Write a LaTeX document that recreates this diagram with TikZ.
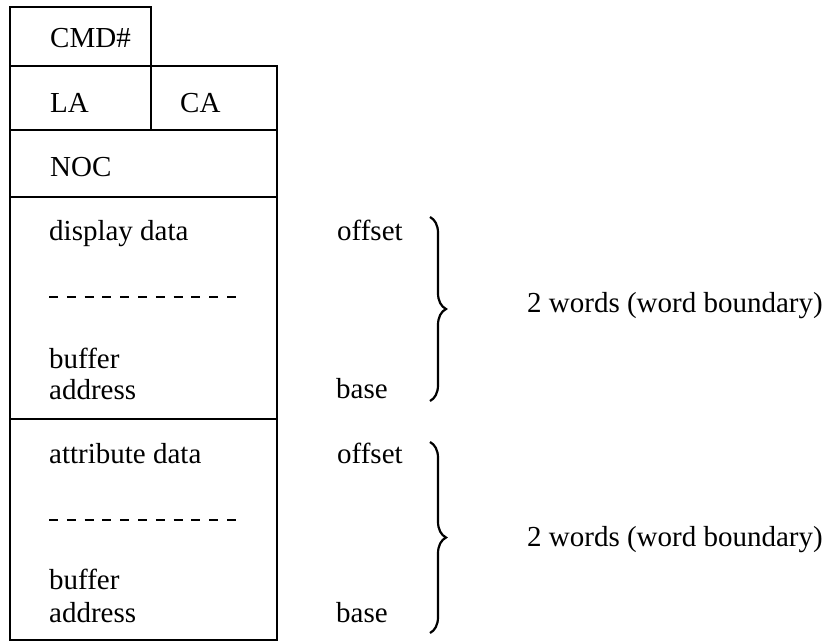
\documentclass[tikz,border=0pt]{standalone}
\usepackage{fontspec}
\setmainfont{Liberation Serif}
\usetikzlibrary{decorations.pathreplacing}

\tikzset{
  txt/.style={anchor=base west, inner sep=0pt, font=\fontsize{29}{33}\selectfont},
  frame/.style={line width=2.2pt},
  gap/.style={line width=2.4pt, dash pattern=on 9pt off 8.8pt},
  curly/.style={decorate, line width=2.2pt, decoration={brace, amplitude=16pt}}
}

\begin{document}
\begin{tikzpicture}[x=1pt,y=-1pt]
  \useasboundingbox (0,0) rectangle (833,643);

  % boxes
  \draw[frame] (10,7) rectangle (151,66);
  \draw[frame] (10,66) rectangle (277,130);
  \draw[frame] (151,66) -- (151,130);
  \draw[frame] (10,130) rectangle (277,197);
  \draw[frame] (10,197) rectangle (277,419);
  \draw[frame] (10,419) -- (10,640) -- (277,640) -- (277,419);

  % top fields
  \node[txt] (cmd) at (50,47) {CMD\#};
  \node[txt] (la) at (50,112) {LA};
  \node[txt] (ca) at (180,112) {CA};
  \node[txt] (noc) at (50,176) {NOC};

  % display data
  \node[txt] (disp) at (49,240) {display data};
  \draw[gap] (49,297) -- (236,297);
  \node[txt] (bufA) at (49,368) {buffer};
  \node[txt] (addrA) at (49,399) {address};
  \node[txt] (offA) at (337,240) {offset};
  \node[txt] (baseA) at (336,398) {base};
  \coordinate (brA1) at (430,217);
  \coordinate (brA2) at (430,401);
  \draw[curly] (brA1) -- (brA2);
  \node[txt] (wordsA) at (527,312) {2 words (word boundary)};

  % attribute data
  \node[txt] (attr) at (49,463) {attribute data};
  \draw[gap] (49,520) -- (236,520);
  \node[txt] (bufB) at (49,589) {buffer};
  \node[txt] (addrB) at (49,622) {address};
  \node[txt] (offB) at (337,463) {offset};
  \node[txt] (baseB) at (336,622) {base};
  \coordinate (brB1) at (430,442);
  \coordinate (brB2) at (430,633);
  \draw[curly] (brB1) -- (brB2);
  \node[txt] (wordsB) at (527,546) {2 words (word boundary)};
\end{tikzpicture}
\end{document}
